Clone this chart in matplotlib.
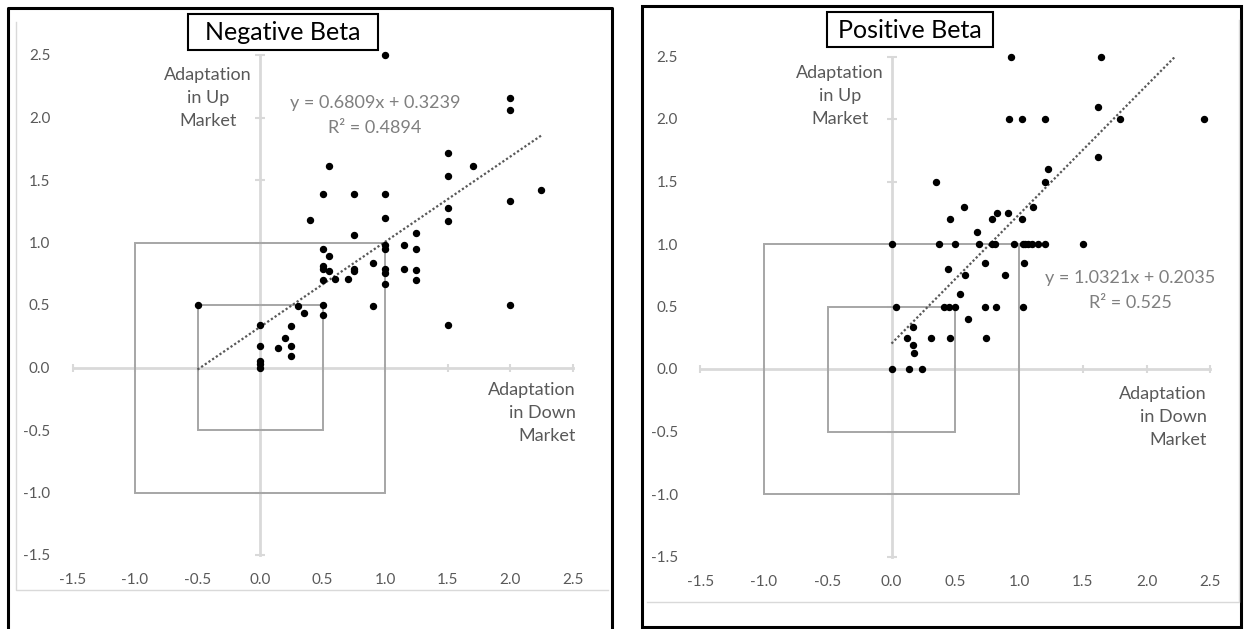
import numpy as np
import matplotlib.pyplot as plt
from matplotlib.patches import Rectangle
from matplotlib.lines import Line2D

plt.rcParams['font.family'] = ['Lato', 'DejaVu Sans']

W, H = 1244, 629

# Negative beta: adaptation in down market (x) vs up market (y)
neg_down = [1.0, 2.0, 2.0, 1.5, 1.7, 0.55, 1.5, 0.5, 0.75, 1.0,
            2.25, 2.0, 1.5, 1.0, 0.4, 1.5, 1.25, 0.75, 1.0, 1.0,
            1.15, 1.25, 0.5, 0.55, 0.9, 0.5, 0.5, 0.55, 0.75, 0.75,
            1.0, 1.0, 1.15, 1.25, 1.25, 1.0, 0.5, 0.6, 0.7, -0.5,
            0.3, 0.5, 0.9, 2.0, 0.35, 0.5, 1.5, 0.0, 0.25, 0.2,
            0.0, 0.14, 0.25, 0.25, 0.0, 0.0, 0.0]
neg_up = [2.5, 2.16, 2.06, 1.72, 1.61, 1.61, 1.53, 1.39, 1.39, 1.39,
          1.42, 1.33, 1.28, 1.2, 1.18, 1.17, 1.08, 1.06, 0.98, 0.95,
          0.98, 0.95, 0.95, 0.89, 0.84, 0.81, 0.79, 0.77, 0.79, 0.77,
          0.79, 0.76, 0.79, 0.78, 0.70, 0.67, 0.70, 0.71, 0.71, 0.5,
          0.49, 0.5, 0.49, 0.5, 0.44, 0.42, 0.34, 0.34, 0.33, 0.24,
          0.17, 0.16, 0.17, 0.09, 0.05, 0.03, 0.0]

# Positive beta
pos_down = [0.94, 1.64, 0.92, 1.02, 1.2, 1.79, 2.45, 1.62, 1.62, 1.23,
            0.35, 1.2, 0.57, 1.11, 0.83, 0.91, 0.46, 0.79, 1.02, 0.67,
            0.0, 0.37, 0.5, 0.69, 0.79, 0.81, 0.96, 1.03, 1.05, 1.07,
            1.1, 1.15, 1.2, 1.5,
            0.73, 1.04, 0.44, 0.58, 0.89, 0.54,
            0.035, 0.41, 0.45, 0.5, 0.73, 0.82, 1.03,
            0.6, 0.17, 0.12, 0.31, 0.46, 0.74, 0.17, 0.18,
            0.0, 0.14, 0.24]
pos_up = [2.5, 2.5, 2.0, 2.0, 2.0, 2.0, 2.0, 2.1, 1.7, 1.6,
          1.5, 1.5, 1.3, 1.3, 1.25, 1.25, 1.2, 1.2, 1.2, 1.1,
          1.0, 1.0, 1.0, 1.0, 1.0, 1.0, 1.0, 1.0, 1.0, 1.0,
          1.0, 1.0, 1.0, 1.0,
          0.85, 0.85, 0.8, 0.75, 0.75, 0.6,
          0.5, 0.5, 0.5, 0.5, 0.5, 0.5, 0.5,
          0.4, 0.34, 0.25, 0.25, 0.25, 0.25, 0.19, 0.13,
          0.0, 0.0, 0.0]

# trend lines: slope, intercept, r2, x range
neg_fit = (0.6809, 0.3239, '0.4894')
pos_fit = (1.0321, 0.2035, '0.525')
neg_fit_x = [-0.5, 2.25]
pos_fit_x = [0.0, 2.23]

ticks = [-1.5, -1.0, -0.5, 0.0, 0.5, 1.0, 1.5, 2.0, 2.5]
box_half = [1.0, 0.5]

fig = plt.figure(figsize=(W / 100, H / 100), dpi=100)


def fx(px):
    return px / W


def fy(py):
    return 1 - py / H


def draw_panel(rect, xs, ys, fit, fit_x):
    ax = fig.add_axes(rect)
    ax.set_xlim(-1.5, 2.5)
    ax.set_ylim(-1.5, 2.5)
    for s in ax.spines.values():
        s.set_visible(False)
    ax.set_xticks(ticks)
    ax.set_yticks(ticks)
    ax.set_xticklabels([f'{t:.1f}' for t in ticks])
    ax.set_yticklabels([f'{t:.1f}' for t in ticks])
    ax.tick_params(length=0, labelsize=11, labelcolor='#595959')
    ax.tick_params(axis='x', pad=13)
    ax.tick_params(axis='y', pad=16)
    ax.patch.set_alpha(0)

    # axis cross at zero
    ax.plot([-1.5, 2.5], [0, 0], color='#d9d9d9', lw=2, zorder=1, clip_on=False)
    ax.plot([0, 0], [-1.5, 2.5], color='#d9d9d9', lw=2, zorder=1, clip_on=False)
    ax.plot(ticks, np.zeros(len(ticks)), ls='none', marker='|', ms=6,
            mec='#d9d9d9', mew=1.5, zorder=1, clip_on=False)
    ax.plot(np.zeros(len(ticks)), ticks, ls='none', marker='_', ms=7,
            mec='#d9d9d9', mew=1.5, zorder=1, clip_on=False)

    for h in box_half:
        ax.add_patch(Rectangle((-h, -h), 2 * h, 2 * h, fill=False,
                               ec='#a6a6a6', lw=1.4, zorder=2))

    ax.plot(xs, ys, 'o', ms=4.3, color='black', zorder=4, clip_on=False)

    lx = np.array(fit_x)
    ax.plot(lx, fit[0] * lx + fit[1], ls=(0, (1, 1)), color='#595959',
            lw=1.6, zorder=3)
    return ax


draw_panel([fx(72.5), 1 - 555 / H, 500 / W, 500 / H], neg_down, neg_up, neg_fit, neg_fit_x)
draw_panel([fx(700.25), 1 - 556.5 / H, 510 / W, 500 / H], pos_down, pos_up, pos_fit, pos_fit_x)

eq_style = dict(ha='center', va='center', color='#7f7f7f', fontsize=13)
fig.text(fx(375), fy(103), f'y = {neg_fit[0]:.4f}x + {neg_fit[1]:.4f}', **eq_style)
fig.text(fx(375), fy(128), f'R² = {neg_fit[2]}', **eq_style)
fig.text(fx(1130), fy(278), f'y = {pos_fit[0]:.4f}x + {pos_fit[1]:.4f}', **eq_style)
fig.text(fx(1130), fy(303), f'R² = {pos_fit[2]}', **eq_style)

lab_style = dict(va='center', color='#595959', fontsize=13, linespacing=1.55)
fig.text(fx(208), fy(98), 'Adaptation\nin Up\nMarket', ha='center', multialignment='center', **lab_style)
fig.text(fx(840), fy(96), 'Adaptation\nin Up\nMarket', ha='center', multialignment='center', **lab_style)
fig.text(fx(576), fy(413), 'Adaptation\nin Down\nMarket', ha='right', multialignment='right', **lab_style)
fig.text(fx(1207), fy(417), 'Adaptation\nin Down\nMarket', ha='right', multialignment='right', **lab_style)

# title boxes
for (x0, y0, x1, y1, name) in [(188, 14, 378, 50, 'Negative Beta'),
                               (827, 12, 993, 47, 'Positive Beta')]:
    fig.add_artist(Rectangle((fx(x0), fy(y1)), fx(x1 - x0), (y1 - y0) / H,
                             transform=fig.transFigure, fill=False, ec='black', lw=1.5))
    fig.text(fx((x0 + x1) / 2), fy((y0 + y1) / 2 + 1), name, ha='center', va='center',
             fontsize=18, color='black')

# outer frames
gray = '#d9d9d9'
fig.add_artist(Line2D([fx(16), fx(16), fx(608)], [fy(22), fy(590), fy(590)],
                      transform=fig.transFigure, color=gray, lw=1))
fig.add_artist(Line2D([fx(647), fx(1239), fx(1239)], [fy(602), fy(602), fy(20)],
                      transform=fig.transFigure, color=gray, lw=1))
fig.add_artist(Line2D([fx(8), fx(8), fx(612), fx(612)], [fy(640), fy(8), fy(8), fy(640)],
                      transform=fig.transFigure, color='black', lw=2.2))
fig.add_artist(Rectangle((fx(642), fy(627)), fx(1241 - 642), 621 / H,
                         transform=fig.transFigure, fill=False, ec='black', lw=2.2))

fig.savefig('out.png', dpi=100)
